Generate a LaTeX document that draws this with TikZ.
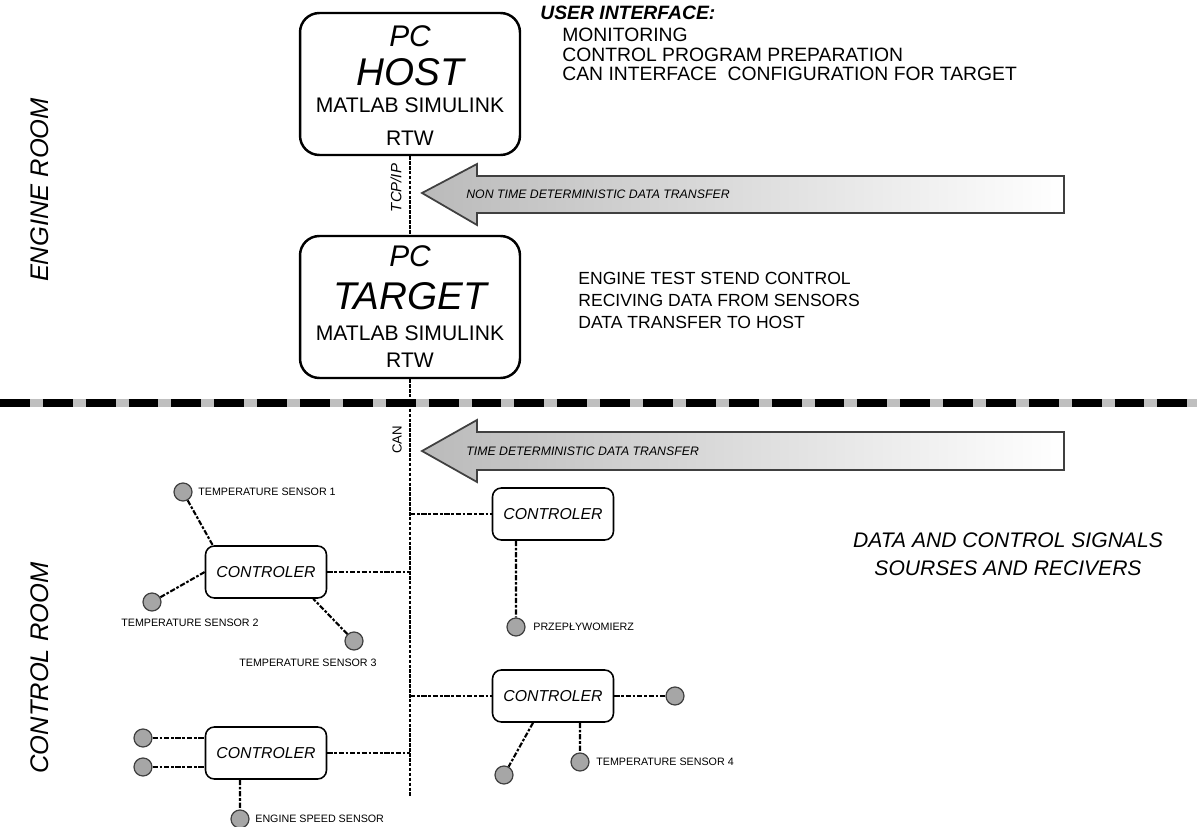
\documentclass[tikz,border=0pt]{standalone}
\usepackage{fontspec}
\setmainfont{Liberation Sans}
\usetikzlibrary{positioning,shapes}

\begin{document}
\begin{tikzpicture}[x=0.02cm,y=-0.02cm]
    \tikzstyle{pc}=[rectangle,rounded corners=11pt,draw,line width=1.4pt,minimum width=4.4cm,minimum height=2.84cm]
    \tikzstyle{ctrl}=[rectangle,rounded corners=5pt,draw,line width=0.9pt,minimum width=2.42cm,minimum height=1.04cm,font=\fontsize{9}{10}\selectfont\itshape]
    \tikzstyle{sensor}=[circle,draw=black!75,fill=black!35,line width=0.7pt,minimum size=0.36cm,inner sep=0pt]
    \tikzstyle{lbl}=[font=\fontsize{6.1}{7}\selectfont,inner sep=0pt]
    \tikzstyle{txt}=[inner sep=0pt]

    \tikzstyle{link}=[line width=1.2pt,dash pattern=on 3pt off 1pt on 1.5pt off 1pt]   % controller lines
    \tikzstyle{bus}=[line width=1.6pt,dash pattern=on 2pt off 0.8pt]                    % TCP/IP and CAN
    \tikzstyle{bigarrow}=[draw=black!75,line width=1pt,left color=black!27,right color=white]

    \useasboundingbox (0,0) rectangle (1197,827);

    % rooms
    \coordinate (sepL) at (0,403);
    \coordinate (sepR) at (1197,403);
    \draw[line width=4pt,black!25] (sepL) -- (sepR);
    \draw[line width=4pt,dash pattern=on 17pt off 7.4pt] (sepL) -- (sepR);
    \node[txt,rotate=90,font=\fontsize{14.5}{15}\selectfont\itshape] (engroom) at (40,190) {ENGINE ROOM};
    \node[txt,rotate=90,font=\fontsize{14.5}{15}\selectfont\itshape] (ctrlroom) at (40,668) {CONTROL ROOM};

    % host and target
    \node[pc] (host) at (410,84) {};
    \node[txt,font=\fontsize{17}{17}\selectfont\itshape] (hostpc) at (410,36) {PC};
    \node[txt,font=\fontsize{22}{22}\selectfont\itshape] (hostname) at (410,72) {HOST};
    \node[txt,font=\fontsize{12}{12}\selectfont] (hostsw) at (410,105) {MATLAB SIMULINK};
    \node[txt,font=\fontsize{12}{12}\selectfont] (hostrtw) at (410,138) {RTW};

    \node[pc] (target) at (410,307) {};
    \node[txt,font=\fontsize{17}{17}\selectfont\itshape] (targetpc) at (410,256) {PC};
    \node[txt,font=\fontsize{22}{22}\selectfont\itshape] (targetname) at (410,296) {TARGET};
    \node[txt,font=\fontsize{12}{12}\selectfont] (targetsw) at (410,333) {MATLAB SIMULINK};
    \node[txt,font=\fontsize{12}{12}\selectfont] (targetrtw) at (410,360) {RTW};

    \node[txt,anchor=west,font=\fontsize{11}{11}\selectfont\bfseries\itshape] (ui) at (540,13) {USER INTERFACE:};
    \node[txt,anchor=north west,align=left,font=\fontsize{11}{11}\selectfont] (uitasks) at (562,28)
        {MONITORING\\CONTROL PROGRAM PREPARATION\\CAN INTERFACE\ \ CONFIGURATION FOR TARGET};
    \node[txt,anchor=north west,align=left,font=\fontsize{10}{12.5}\selectfont] (targettasks) at (578,272)
        {ENGINE TEST STEND CONTROL\\RECIVING DATA FROM SENSORS\\DATA TRANSFER TO HOST};

    % buses
    \coordinate (busend) at (410,797);
    \draw[bus] (host) -- (target);
    \draw[bus] (target) -- (busend);
    \node[txt,rotate=90,font=\fontsize{8.5}{9}\selectfont\itshape] (tcpip) at (396,188) {TCP/IP};
    \node[txt,rotate=90,font=\fontsize{7.5}{8}\selectfont] (can) at (397,440) {CAN};

    % transfer arrows
    \filldraw[bigarrow] (422,193) -- (477,164) -- (477,176) -- (1064,176) -- (1064,213) -- (477,213) -- (477,225) -- cycle;
    \node[txt,anchor=west,font=\fontsize{7}{8}\selectfont\itshape] (nontime) at (466,194) {NON TIME DETERMINISTIC DATA TRANSFER};
    \filldraw[bigarrow] (422,451) -- (477,420) -- (477,432) -- (1064,432) -- (1064,470) -- (477,470) -- (477,482) -- cycle;
    \node[txt,anchor=west,font=\fontsize{7}{8}\selectfont\itshape] (time) at (466,451) {TIME DETERMINISTIC DATA TRANSFER};

    % controllers
    \node[ctrl] (ctrlA) at (553,514) {CONTROLER};
    \node[ctrl] (ctrlB) at (266,572) {CONTROLER};
    \node[ctrl] (ctrlC) at (553,696) {CONTROLER};
    \node[ctrl] (ctrlD) at (266,753) {CONTROLER};

    \coordinate (tapA) at (410,514);
    \coordinate (tapB) at (410,572);
    \coordinate (tapC) at (410,696);
    \coordinate (tapD) at (410,753);
    \draw[link] (tapA) -- (ctrlA);
    \draw[link] (ctrlB) -- (tapB);
    \draw[link] (tapC) -- (ctrlC);
    \draw[link] (ctrlD) -- (tapD);

    % sensors
    \node[sensor] (ts1) at (183,492) {};
    \node[lbl,anchor=west] (ts1lbl) at (198,492) {TEMPERATURE SENSOR 1};
    \node[sensor] (ts2) at (152,602) {};
    \node[lbl] (ts2lbl) at (190,623) {TEMPERATURE SENSOR 2};
    \node[sensor] (ts3) at (354,641) {};
    \node[lbl] (ts3lbl) at (308,663) {TEMPERATURE SENSOR 3};
    \draw[link] (ts1) -- ([xshift=0.16cm]ctrlB.north west);
    \draw[link] (ts2) -- (ctrlB.west);
    \draw[link] (ts3) -- ([xshift=-0.28cm]ctrlB.south east);

    \node[sensor] (flow) at (516,627) {};
    \node[lbl,anchor=west] (flowlbl) at (533,627) {PRZEPŁYWOMIERZ};
    \draw[link] ([xshift=-0.74cm]ctrlA.south) -- (flow);

    \node[sensor] (sC1) at (675,696) {};
    \node[sensor] (sC2) at (504,775) {};
    \node[sensor] (ts4) at (580,762) {};
    \node[lbl,anchor=west] (ts4lbl) at (596,762) {TEMPERATURE SENSOR 4};
    \draw[link] (ctrlC) -- (sC1);
    \draw[link] ([xshift=-0.4cm]ctrlC.south) -- (sC2);
    \draw[link] ([xshift=0.54cm]ctrlC.south) -- (ts4);

    \node[sensor] (sD1) at (143,738) {};
    \node[sensor] (sD2) at (143,767) {};
    \node[sensor] (speed) at (240,819) {};
    \node[lbl,anchor=west] (speedlbl) at (255,819) {ENGINE SPEED SENSOR};
    \draw[link] (sD1) -- (sD1 -| ctrlD.west);
    \draw[link] (sD2) -- (sD2 -| ctrlD.west);
    \draw[link] ([xshift=-0.52cm]ctrlD.south) -- (speed);

    \node[txt,anchor=north,align=center,font=\fontsize{12}{16.4}\selectfont\itshape] (signals) at (1008,532)
        {DATA AND CONTROL SIGNALS\\SOURSES AND RECIVERS};
\end{tikzpicture}
\end{document}
